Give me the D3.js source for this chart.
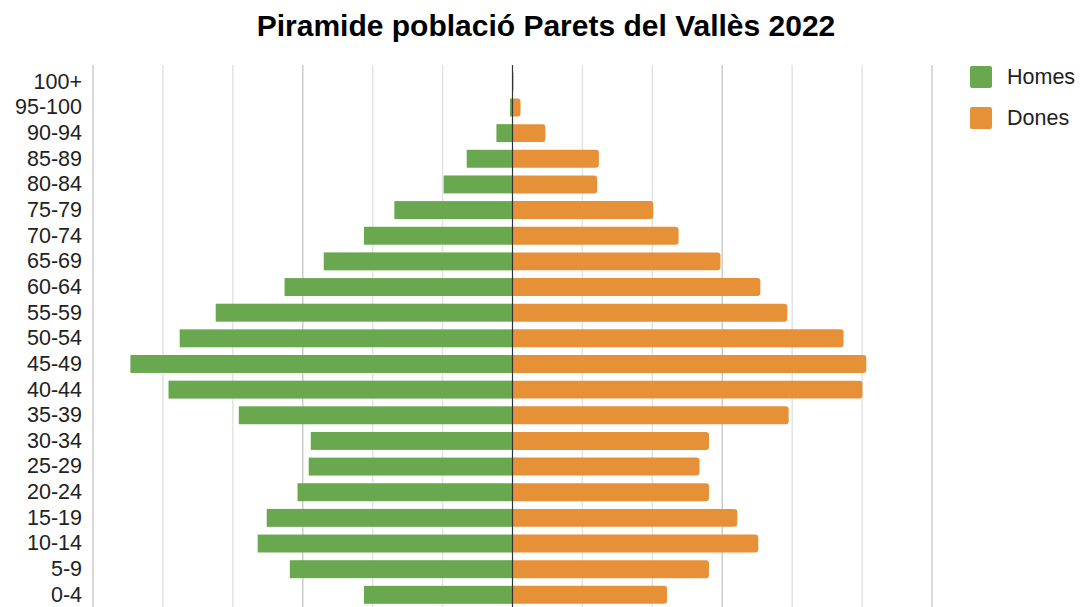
<!DOCTYPE html>
<html>
<head>
<meta charset="utf-8">
<script src="https://cdn.jsdelivr.net/npm/d3@7"></script>
<style>
  body { margin: 0; background: #fff; }
  svg { display: block; font-family: "Liberation Sans", Arial, sans-serif; }
</style>
</head>
<body>
<div id="chart"></div>
<script>
var svgWidth = 1080;
var svgHeight = 607;

// age groups, top to bottom
var ageGroups = ["100+", "95-100", "90-94", "85-89", "80-84", "75-79", "70-74", "65-69",
  "60-64", "55-59", "50-54", "45-49", "40-44", "35-39", "30-34", "25-29", "20-24",
  "15-19", "10-14", "5-9", "0-4"];

// population
var homes = [0, 7, 46, 131, 197, 338, 425, 540, 652, 849, 952, 1093, 984, 783, 577,
  583, 615, 703, 729, 637, 425];
var dones = [3, 23, 94, 247, 242, 403, 475, 595, 709, 786, 947, 1012, 1001, 790, 562,
  535, 562, 643, 703, 562, 442];

var seriesNames = ["Homes", "Dones"];
var seriesColors = ["#6aa84f", "#e69138"];

var gridTicks = d3.range(-1200, 1201, 200);

var margin = { top: 69, right: 148, bottom: 0, left: 93 };

var svg = d3.select("#chart")
  .append("svg")
  .attr("width", svgWidth)
  .attr("height", svgHeight);

var x = d3.scaleLinear()
  .domain([-1200, 1200])
  .range([margin.left, 932]);

var y = d3.scaleBand()
  .domain(ageGroups)
  .range([margin.top, margin.top + 25.65 * ageGroups.length])
  .paddingInner(0.3)
  .paddingOuter(0.15);

// title
svg.append("text")
  .attr("x", 546)
  .attr("y", 36)
  .attr("text-anchor", "middle")
  .attr("font-size", "30px")
  .attr("font-weight", "bold")
  .attr("fill", "#000")
  .text("Piramide població Parets del Vallès 2022");

// gridlines
svg.append("g")
  .selectAll("line")
  .data(gridTicks.filter(d => d !== 0))
  .enter()
  .append("line")
  .attr("x1", d => x(d))
  .attr("x2", d => x(d))
  .attr("y1", 65)
  .attr("y2", svgHeight)
  .attr("stroke", d => (d % 600 === 0) ? "#cccccc" : "#e3e3e3")
  .attr("stroke-width", 1.5);

// men bars (to the left)
svg.append("g")
  .selectAll("rect")
  .data(homes)
  .enter()
  .append("rect")
  .attr("x", d => x(-d))
  .attr("y", (d, i) => y(ageGroups[i]))
  .attr("width", d => x(0) - x(-d))
  .attr("height", y.bandwidth())
  .attr("fill", seriesColors[0]);

// women bars (to the right, rounded end)
function rightRounded(x0, y0, w, h, r) {
  r = Math.min(r, w / 2);
  return "M" + x0 + "," + y0 +
    "H" + (x0 + w - r) +
    "Q" + (x0 + w) + "," + y0 + " " + (x0 + w) + "," + (y0 + r) +
    "V" + (y0 + h - r) +
    "Q" + (x0 + w) + "," + (y0 + h) + " " + (x0 + w - r) + "," + (y0 + h) +
    "H" + x0 + "Z";
}

svg.append("g")
  .selectAll("path")
  .data(dones)
  .enter()
  .append("path")
  .attr("d", (d, i) => rightRounded(x(0), y(ageGroups[i]), x(d) - x(0), y.bandwidth(), 3))
  .attr("fill", seriesColors[1]);

// zero axis
svg.append("line")
  .attr("x1", x(0))
  .attr("x2", x(0))
  .attr("y1", 65)
  .attr("y2", svgHeight)
  .attr("stroke", "#333")
  .attr("stroke-width", 1.2);

// category labels
var leftAxis = d3.axisLeft(y).tickSize(0).tickPadding(0);
var yAxis = svg.append("g")
  .attr("transform", `translate(82, 0)`)
  .call(leftAxis);
yAxis.select(".domain").remove();
yAxis.selectAll("text")
  .attr("font-size", "21.5px")
  .attr("font-family", "Liberation Sans, Arial, sans-serif")
  .attr("fill", "#222");

// legend
var legend = svg.append("g")
  .selectAll("g")
  .data(seriesNames)
  .enter()
  .append("g")
  .attr("transform", (d, i) => `translate(970, ${66 + i * 41})`);

legend.append("rect")
  .attr("width", 22)
  .attr("height", 22)
  .attr("rx", 2)
  .attr("fill", (d, i) => seriesColors[i]);

legend.append("text")
  .attr("x", 37)
  .attr("y", 18)
  .attr("font-size", "21.5px")
  .attr("fill", "#222")
  .text(d => d);
</script>
</body>
</html>
